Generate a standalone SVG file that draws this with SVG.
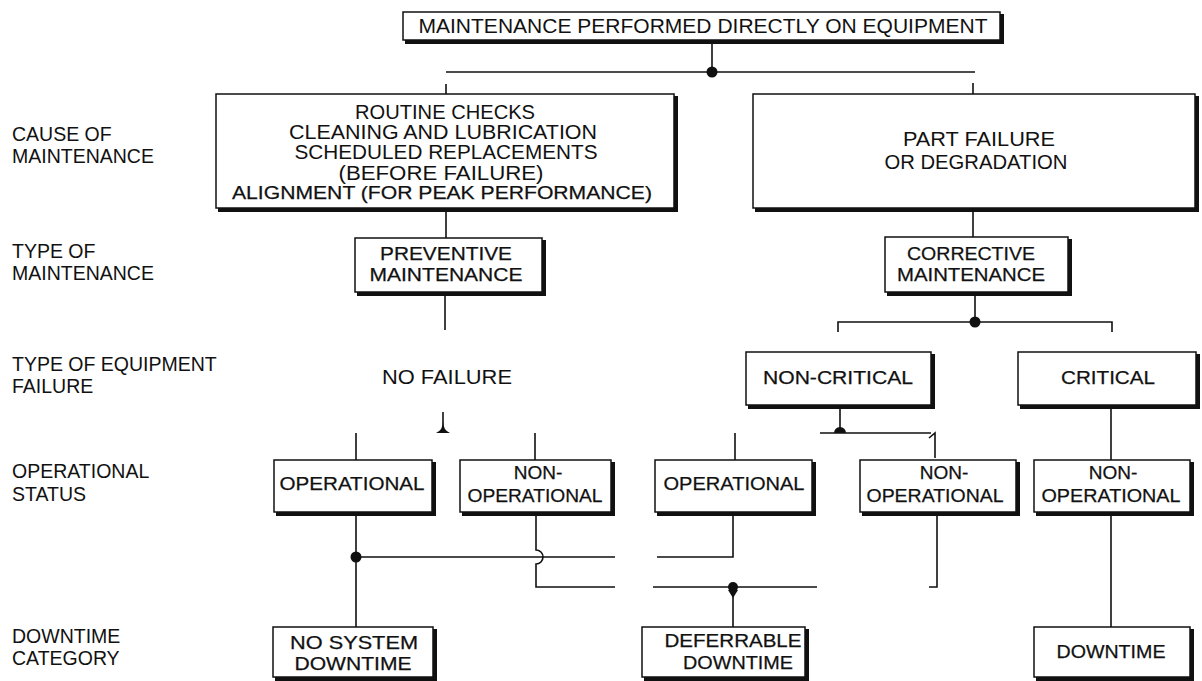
<svg xmlns="http://www.w3.org/2000/svg" width="1202" height="681" viewBox="0 0 1202 681">
  <style>
    .frame { fill: #fff; stroke: #111; stroke-width: 1.5; }
    .shade { fill: none; stroke: #111; stroke-width: 4; }
    .wire { fill: none; stroke: #111; stroke-width: 1.6; }
    .dot { fill: #111; }
    text { font-family: "Liberation Sans", Arial, sans-serif; fill: #111; }
    .lbl { font-size: 19.5px; }
    .t { font-size: 20px; text-anchor: middle; }
    .k { font-size: 19px; text-anchor: middle; stroke: #111; stroke-width: 0.25; }
  </style>
  <rect width="1202" height="681" fill="#fff"/>

  <!-- row captions on the left -->
  <g id="captions">
    <text class="lbl" x="12" y="141">CAUSE OF</text>
    <text class="lbl" x="12" y="163">MAINTENANCE</text>
    <text class="lbl" x="12" y="258">TYPE OF</text>
    <text class="lbl" x="12" y="280">MAINTENANCE</text>
    <text class="lbl" x="12" y="371">TYPE OF EQUIPMENT</text>
    <text class="lbl" x="12" y="393">FAILURE</text>
    <text class="lbl" x="12" y="478">OPERATIONAL</text>
    <text class="lbl" x="12" y="501">STATUS</text>
    <text class="lbl" x="12" y="643">DOWNTIME</text>
    <text class="lbl" x="12" y="665">CATEGORY</text>
  </g>

  <!-- connectors -->
  <g id="connectors">
    <path class="wire" d="M712,42 V72 M446,72 H975 M446,84 V94 M973,83 V94"/>
    <circle class="dot" cx="712" cy="72" r="5.5"/>
    <path class="wire" d="M446,208 V238 M973,209 V237"/>
    <path class="wire" d="M445,294 V330"/>
    <path class="wire" d="M443,412 V431"/>
    <path class="dot" d="M436,433 Q443,430 443,421 Q443,430 450,433 Z"/>
    <path class="wire" d="M356,433 V460 M535,433 V460"/>
    <path class="wire" d="M975,293 V322 M838,332 V322 H1112 V332"/>
    <circle class="dot" cx="975" cy="322" r="5.5"/>
    <path class="wire" d="M840,406 V433 M820,433 H931 M929,438 L935,433 V458 M735,433 V460 M1111,406 V460"/>
    <path class="dot" d="M834,433 A6,6 0 0 1 846,433 Z"/>
    <path class="wire" d="M356,513 V627 M356,557 H615 M657,557 H733 V513"/>
    <circle class="dot" cx="356" cy="557" r="5.5"/>
    <path class="wire" d="M536,513 V550 A7,7 0 0 1 536,564 V587 H615 M653,587 H817"/>
    <circle class="dot" cx="733" cy="587" r="5"/>
    <path class="dot" d="M728,590 H738 L733,598 Z"/>
    <path class="wire" d="M733,587 V627 M937,513 V587 H929 M1111,513 V627"/>
  </g>

  <g id="n-root">
    <rect class="frame" x="403" y="12" width="597" height="28"/>
    <path class="shade" d="M405,42 H1002 V14"/>
    <text class="t" x="703" y="33" font-size="21" textLength="569" lengthAdjust="spacingAndGlyphs">MAINTENANCE PERFORMED DIRECTLY ON EQUIPMENT</text>
  </g>

  <g id="n-cause-scheduled">
    <rect class="frame" x="216" y="94" width="458" height="114"/>
    <path class="shade" d="M218,210 H676 V96"/>
    <text class="t" x="445" y="119" textLength="180" lengthAdjust="spacingAndGlyphs">ROUTINE CHECKS</text>
    <text class="t" x="443" y="139" textLength="308" lengthAdjust="spacingAndGlyphs">CLEANING AND LUBRICATION</text>
    <text class="t" x="446" y="159" textLength="303" lengthAdjust="spacingAndGlyphs">SCHEDULED REPLACEMENTS</text>
    <text class="t" x="441" y="180" textLength="205" lengthAdjust="spacingAndGlyphs">(BEFORE FAILURE)</text>
    <text class="k" x="442" y="199" textLength="420" lengthAdjust="spacingAndGlyphs">ALIGNMENT (FOR PEAK PERFORMANCE)</text>
  </g>

  <g id="n-cause-failure">
    <rect class="frame" x="753" y="94" width="442" height="114"/>
    <path class="shade" d="M755,210 H1197 V96"/>
    <text class="t" x="979" y="146" textLength="152" lengthAdjust="spacingAndGlyphs">PART FAILURE</text>
    <text class="t" x="976" y="169" textLength="183" lengthAdjust="spacingAndGlyphs">OR DEGRADATION</text>
  </g>

  <g id="n-preventive">
    <rect class="frame" x="355" y="238" width="187" height="54"/>
    <path class="shade" d="M357,294 H544 V240"/>
    <text class="k" x="446" y="260" textLength="132" lengthAdjust="spacingAndGlyphs">PREVENTIVE</text>
    <text class="k" x="446" y="281" textLength="153" lengthAdjust="spacingAndGlyphs">MAINTENANCE</text>
  </g>

  <g id="n-corrective">
    <rect class="frame" x="885" y="237" width="183" height="55"/>
    <path class="shade" d="M887,294 H1070 V239"/>
    <text class="k" x="971" y="260" textLength="128" lengthAdjust="spacingAndGlyphs">CORRECTIVE</text>
    <text class="k" x="971" y="281" textLength="148" lengthAdjust="spacingAndGlyphs" stroke-width="0.7">MAINTENANCE</text>
  </g>

  <g id="n-no-failure">
    <text class="t" x="447" y="384" textLength="130" lengthAdjust="spacingAndGlyphs">NO FAILURE</text>
  </g>

  <g id="n-non-critical">
    <rect class="frame" x="746" y="352" width="185" height="53"/>
    <path class="shade" d="M748,407 H933 V354"/>
    <text class="k" x="838" y="384" textLength="150" lengthAdjust="spacingAndGlyphs">NON-CRITICAL</text>
  </g>

  <g id="n-critical">
    <rect class="frame" x="1018" y="352" width="178" height="53"/>
    <path class="shade" d="M1020,407 H1198 V354"/>
    <text class="k" x="1108" y="384" textLength="94" lengthAdjust="spacingAndGlyphs">CRITICAL</text>
  </g>

  <g id="n-op-1">
    <rect class="frame" x="274" y="460" width="158" height="52"/>
    <path class="shade" d="M276,514 H434 V462"/>
    <text class="k" x="352" y="490" textLength="145" lengthAdjust="spacingAndGlyphs">OPERATIONAL</text>
  </g>

  <g id="n-nonop-2">
    <rect class="frame" x="460" y="460" width="151" height="52"/>
    <path class="shade" d="M462,514 H613 V462"/>
    <text class="k" x="538" y="479">NON-</text>
    <text class="k" x="535" y="502" textLength="135" lengthAdjust="spacingAndGlyphs">OPERATIONAL</text>
  </g>

  <g id="n-op-3">
    <rect class="frame" x="655" y="460" width="157" height="52"/>
    <path class="shade" d="M657,514 H814 V462"/>
    <text class="k" x="734" y="490" textLength="141" lengthAdjust="spacingAndGlyphs">OPERATIONAL</text>
  </g>

  <g id="n-nonop-4">
    <rect class="frame" x="860" y="460" width="156" height="52"/>
    <path class="shade" d="M862,514 H1018 V462"/>
    <text class="k" x="944" y="479">NON-</text>
    <text class="k" x="935" y="502" textLength="137" lengthAdjust="spacingAndGlyphs">OPERATIONAL</text>
  </g>

  <g id="n-nonop-5">
    <rect class="frame" x="1034" y="460" width="156" height="52"/>
    <path class="shade" d="M1036,514 H1192 V462"/>
    <text class="k" x="1113" y="479">NON-</text>
    <text class="k" x="1111" y="502" textLength="139" lengthAdjust="spacingAndGlyphs">OPERATIONAL</text>
  </g>

  <g id="n-no-system-downtime">
    <rect class="frame" x="273" y="627" width="160" height="50"/>
    <path class="shade" d="M275,679 H435 V629"/>
    <text class="k" x="354" y="649" textLength="128" lengthAdjust="spacingAndGlyphs">NO SYSTEM</text>
    <text class="k" x="353" y="670" textLength="117" lengthAdjust="spacingAndGlyphs">DOWNTIME</text>
  </g>

  <g id="n-deferrable-downtime">
    <rect class="frame" x="642" y="627" width="163" height="50"/>
    <path class="shade" d="M644,679 H807 V629"/>
    <text class="k" x="733" y="647" textLength="137" lengthAdjust="spacingAndGlyphs">DEFERRABLE</text>
    <text class="k" x="738" y="669" textLength="110" lengthAdjust="spacingAndGlyphs">DOWNTIME</text>
  </g>

  <g id="n-downtime">
    <rect class="frame" x="1034" y="627" width="156" height="50"/>
    <path class="shade" d="M1036,679 H1192 V629"/>
    <text class="k" x="1111" y="658" textLength="109" lengthAdjust="spacingAndGlyphs">DOWNTIME</text>
  </g>
</svg>
